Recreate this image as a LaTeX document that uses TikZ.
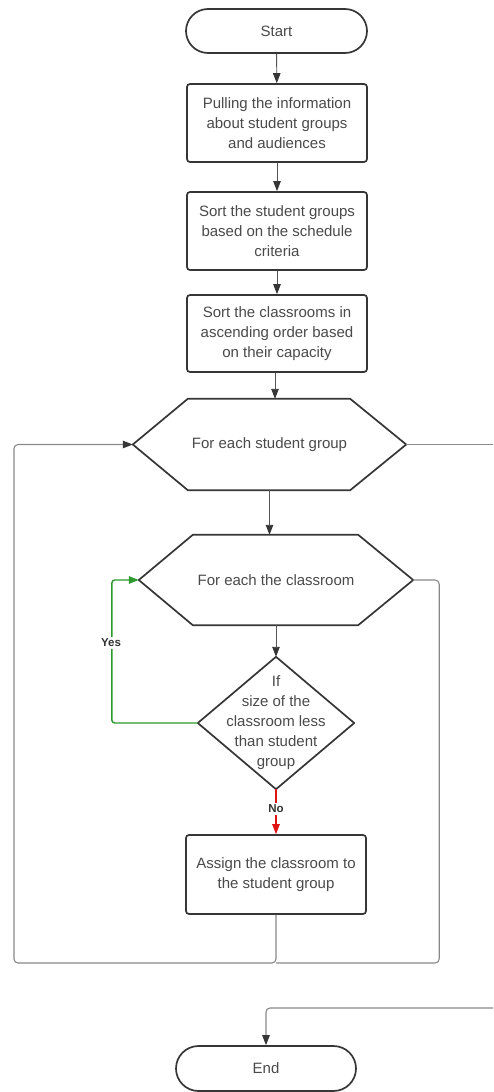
\documentclass[tikz,border=0pt]{standalone}
\usepackage{fontspec}
\setmainfont{Liberation Sans}
\usetikzlibrary{arrows.meta,shapes.misc,shapes.geometric}
\definecolor{shapecol}{HTML}{363636}
\definecolor{txtcol}{HTML}{4A4A4A}
\definecolor{conncol}{HTML}{555555}
\definecolor{loopcol}{HTML}{8A8A8A}
\definecolor{yescol}{HTML}{2E9A2E}
\definecolor{nocol}{HTML}{E01414}
\tikzset{
  basefont/.style={font=\fontsize{15}{20}\selectfont, text=txtcol, align=center},
  procbox/.style={basefont, draw=shapecol, line width=1.7pt, fill=white, rounded corners=3pt,
    minimum width=180pt, minimum height=78pt, inner sep=0pt},
  term/.style={basefont, rounded rectangle, draw=shapecol, line width=1.7pt, fill=white,
    minimum width=181pt, minimum height=44pt, inner sep=0pt},
  plainnode/.style={basefont, draw=none, inner sep=0pt},
  shapeline/.style={draw=shapecol, line width=1.7pt, line join=round},
  tip/.style={-{Triangle[length=10pt,width=7.5pt,color=shapecol]}},
  conn/.style={draw=conncol, line width=0.9pt, tip},
  loopline/.style={draw=loopcol, line width=1.1pt, rounded corners=4pt},
  yesline/.style={draw=yescol, line width=1.4pt, rounded corners=3pt, -{Triangle[length=10pt,width=7.5pt]}},
  noline/.style={draw=nocol, line width=1.1pt, -{Triangle[length=10pt,width=7.5pt]}},
  lbl/.style={font=\bfseries\fontsize{11.5}{13}\selectfont, text=black!80, fill=white, inner sep=1.5pt},
}
\begin{document}
\begin{tikzpicture}[x=1pt,y=-1pt]
\useasboundingbox[fill=white] (0,0) rectangle (493,1092);

% nodes
\node[term] (start) at (276.5,31) {Start};
\node[procbox] (b1) at (277,123) {Pulling the information\\about student groups\\and audiences};
\node[procbox] (b2) at (277,231) {Sort the student groups\\based on the schedule\\criteria};
\node[procbox, minimum height=77pt] (b3) at (277,333.5) {Sort the classrooms in\\ascending order based\\on their capacity};

\node[plainnode, minimum width=273pt, minimum height=91pt] (h1) at (269.5,444.5) {For each student group};
\draw[shapeline] (h1.west) -- ([xshift=55pt]h1.north west) -- ([xshift=-56pt]h1.north east)
  -- (h1.east) -- ([xshift=-56pt]h1.south east) -- ([xshift=55pt]h1.south west) -- cycle;

\node[plainnode, minimum width=274pt, minimum height=90pt] (h2) at (276,580) {For each the classroom};
\draw[shapeline] (h2.west) -- ([xshift=54pt]h2.north west) -- ([xshift=-55pt]h2.north east)
  -- (h2.east) -- ([xshift=-55pt]h2.south east) -- ([xshift=54pt]h2.south west) -- cycle;

\node[plainnode, minimum width=156pt, minimum height=132pt] (d) at (276,723)
  {If\\size of the\\classroom less\\than student\\group};
\draw[shapeline] (d.north) -- (d.east) -- (d.south) -- (d.west) -- cycle;

\node[procbox, minimum height=79pt] (b4) at (276,874.5) {Assign the classroom to\\the student group};
\node[term, minimum width=180pt, minimum height=45pt] (e) at (266,1068.5) {End};

% free ends
\coordinate (lb) at (276,963);
\coordinate (ex1) at (493,444.5);
\coordinate (ex2) at (493,1008);

% main connectors
\draw[conn] (start) -- (b1);
\draw[conn] (b1) -- (b2);
\draw[conn] (b2) -- (b3);
\draw[conn] (b3.south -| 275,0) -- (h1.north -| 275,0);
\draw[conn] (h1.south) -- (h1.south |- h2.north);
\draw[conn] (h2.south) -- (d.north);

% yes / no
\draw[yesline] (d.west) -- ++(-86pt,0) |- (h2.west);
\node[lbl] (yes) at (111,643) {Yes};
\draw[noline] (d.south) -- (b4.north);
\node[lbl] (no) at (276,809) {No};

% loops
\draw[loopline] (h2.east) -- ++(26pt,0) |- (lb);
\draw[loopline, tip] (b4.south) -- (lb) -- (14,963) -- (14,444.5) -- (h1.west);
\draw[loopline] (h1.east) -- (ex1);
\draw[loopline, tip] (ex2) -| (e.north);
\end{tikzpicture}
\end{document}
